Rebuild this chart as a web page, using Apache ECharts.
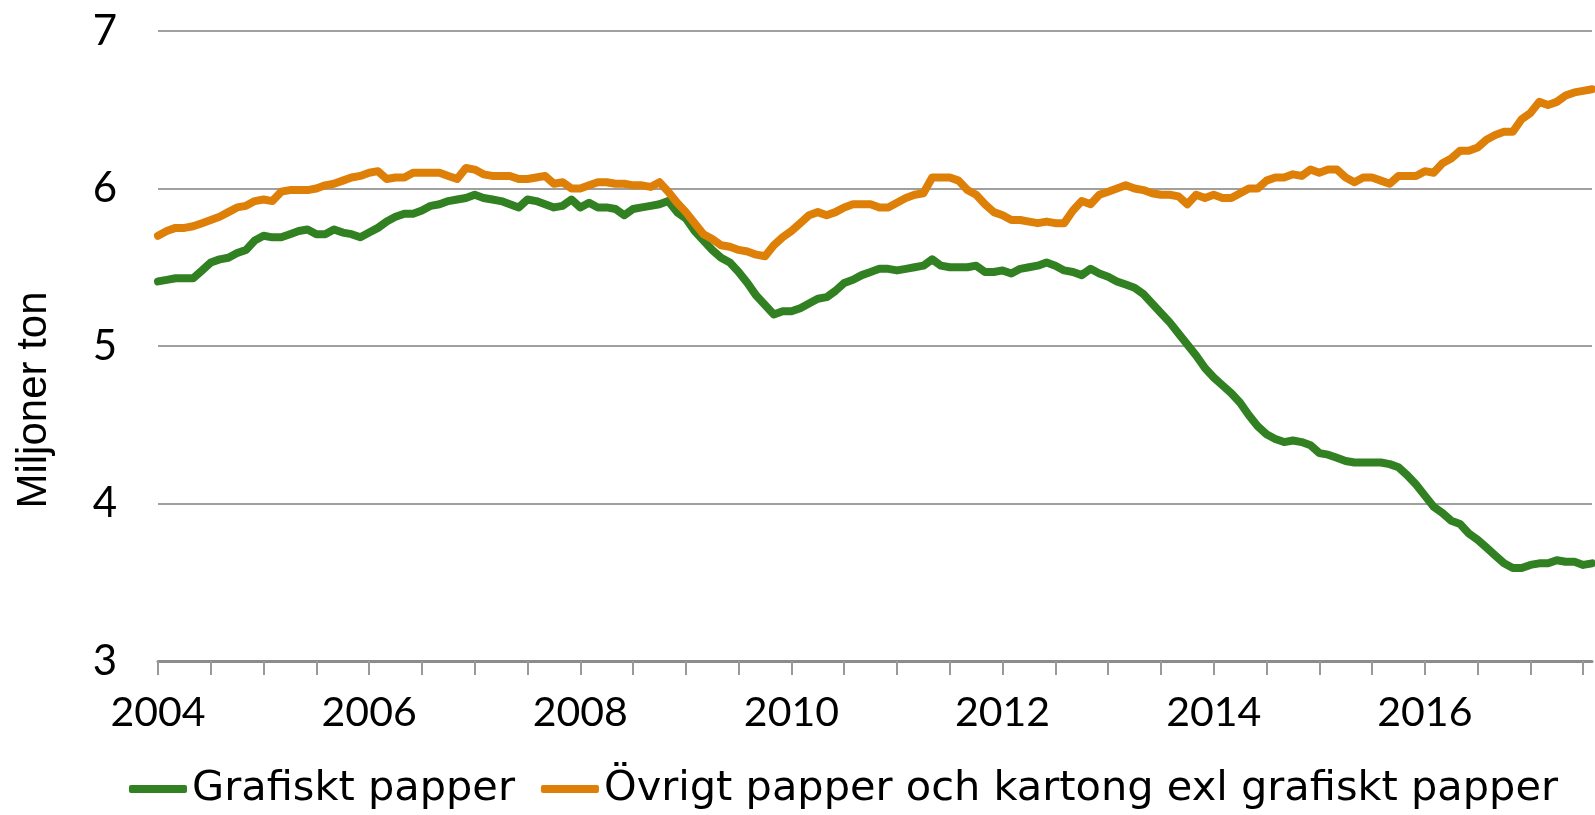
<!DOCTYPE html>
<html>
<head>
<meta charset="utf-8">
<title>Papper och kartong</title>
<script src="https://cdn.jsdelivr.net/npm/echarts@6/dist/echarts.min.js"></script>
<style>
  html, body { margin: 0; padding: 0; background: #fff; }
  #chart { width: 1595px; height: 815px; }
</style>
</head>
<body>
<div id="chart"></div>
<script>
// månadsdata jan 2004 - aug 2017, rullande 12 mån, miljoner ton
const startYear = 2004
const monthCount = 164
const seriesNames = ['Grafiskt papper', 'Övrigt papper och kartong exl grafiskt papper']
const yTicks = [3, 4, 5, 6, 7]

const grafiskt = [
  5.41, 5.42, 5.43, 5.43, 5.43, 5.48, 5.53, 5.55, 5.56, 5.59, 5.61, 5.67,
  5.70, 5.69, 5.69, 5.71, 5.73, 5.74, 5.71, 5.71, 5.74, 5.72, 5.71, 5.69,
  5.72, 5.75, 5.79, 5.82, 5.84, 5.84, 5.86, 5.89, 5.90, 5.92, 5.93, 5.94,
  5.96, 5.94, 5.93, 5.92, 5.90, 5.88, 5.93, 5.92, 5.90, 5.88, 5.89, 5.93,
  5.88, 5.91, 5.88, 5.88, 5.87, 5.83, 5.87, 5.88, 5.89, 5.90, 5.92, 5.85,
  5.81, 5.73, 5.67, 5.61, 5.56, 5.53, 5.47, 5.40, 5.32, 5.26, 5.20, 5.22,
  5.22, 5.24, 5.27, 5.30, 5.31, 5.35, 5.40, 5.42, 5.45, 5.47, 5.49, 5.49,
  5.48, 5.49, 5.50, 5.51, 5.55, 5.51, 5.50, 5.50, 5.50, 5.51, 5.47, 5.47,
  5.48, 5.46, 5.49, 5.50, 5.51, 5.53, 5.51, 5.48, 5.47, 5.45, 5.49, 5.46,
  5.44, 5.41, 5.39, 5.37, 5.33, 5.27, 5.21, 5.15, 5.08, 5.01, 4.94, 4.86,
  4.80, 4.75, 4.70, 4.64, 4.56, 4.49, 4.44, 4.41, 4.39, 4.40, 4.39, 4.37,
  4.32, 4.31, 4.29, 4.27, 4.26, 4.26, 4.26, 4.26, 4.25, 4.23, 4.18, 4.12,
  4.05, 3.98, 3.94, 3.89, 3.87, 3.81, 3.77, 3.72, 3.67, 3.62, 3.59, 3.59,
  3.61, 3.62, 3.62, 3.64, 3.63, 3.63, 3.61, 3.62
]

const ovrigt = [
  5.70, 5.73, 5.75, 5.75, 5.76, 5.78, 5.80, 5.82, 5.85, 5.88, 5.89, 5.92,
  5.93, 5.92, 5.98, 5.99, 5.99, 5.99, 6.00, 6.02, 6.03, 6.05, 6.07, 6.08,
  6.10, 6.11, 6.06, 6.07, 6.07, 6.10, 6.10, 6.10, 6.10, 6.08, 6.06, 6.13,
  6.12, 6.09, 6.08, 6.08, 6.08, 6.06, 6.06, 6.07, 6.08, 6.03, 6.04, 6.00,
  6.00, 6.02, 6.04, 6.04, 6.03, 6.03, 6.02, 6.02, 6.01, 6.04, 5.98, 5.91,
  5.85, 5.78, 5.71, 5.68, 5.64, 5.63, 5.61, 5.60, 5.58, 5.57, 5.64, 5.69,
  5.73, 5.78, 5.83, 5.85, 5.83, 5.85, 5.88, 5.90, 5.90, 5.90, 5.88, 5.88,
  5.91, 5.94, 5.96, 5.97, 6.07, 6.07, 6.07, 6.05, 5.99, 5.96, 5.90, 5.85,
  5.83, 5.80, 5.80, 5.79, 5.78, 5.79, 5.78, 5.78, 5.86, 5.92, 5.90, 5.96,
  5.98, 6.00, 6.02, 6.00, 5.99, 5.97, 5.96, 5.96, 5.95, 5.90, 5.96, 5.94,
  5.96, 5.94, 5.94, 5.97, 6.00, 6.00, 6.05, 6.07, 6.07, 6.09, 6.08, 6.12,
  6.10, 6.12, 6.12, 6.07, 6.04, 6.07, 6.07, 6.05, 6.03, 6.08, 6.08, 6.08,
  6.11, 6.10, 6.16, 6.19, 6.24, 6.24, 6.26, 6.31, 6.34, 6.36, 6.36, 6.44,
  6.48, 6.55, 6.53, 6.55, 6.59, 6.61, 6.62, 6.63
]

// kategorier: en per månad
const months = []
for (let i = 0; i < monthCount; i++) {
  const y = startYear + Math.floor(i / 12)
  const m = (i % 12) + 1
  months.push(y + '-' + (m < 10 ? '0' + m : m))
}

const font = 'Lato, "Open Sans", sans-serif'
const chart = echarts.init(document.getElementById('chart'))

chart.setOption({
  animation: false,
  color: ['#318021', '#de7f08'],
  grid: { left: 158, right: 3, top: 31, bottom: 154 },
  legend: {
    data: seriesNames,
    left: 124,
    top: 763,
    icon: 'roundRect',
    itemWidth: 58,
    itemHeight: 8,
    itemGap: 26,
    textStyle: { fontFamily: '"DejaVu Sans", sans-serif', fontSize: 41.5, color: '#000' }
  },
  graphic: [{
    type: 'text',
    x: 34,
    y: 400,
    rotation: Math.PI / 2,
    style: {
      text: 'Miljoner ton',
      font: '42px "Liberation Sans", Arial, sans-serif',
      fill: '#000',
      align: 'center',
      verticalAlign: 'middle'
    }
  }],
  xAxis: {
    type: 'category',
    data: months,
    boundaryGap: false,
    axisLine: { lineStyle: { color: '#8c8c8c', width: 3 } },
    axisTick: { interval: 5, length: 14, lineStyle: { color: '#999', width: 2 } },
    axisLabel: {
      interval: 23,
      margin: 31,
      fontFamily: font,
      fontSize: 41,
      color: '#000',
      formatter: v => v.slice(0, 4)
    },
    splitLine: { show: false }
  },
  yAxis: {
    type: 'value',
    min: yTicks[0],
    max: yTicks[yTicks.length - 1],
    interval: 1,
    axisLine: { show: false },
    axisTick: { show: false },
    axisLabel: { margin: 41, fontFamily: font, fontSize: 42, color: '#000' },
    splitLine: { lineStyle: { color: '#a0a0a0', width: 2 } }
  },
  series: [
    {
      name: seriesNames[0],
      type: 'line',
      data: grafiskt,
      showSymbol: false,
      lineStyle: { width: 8, cap: 'round', join: 'round' }
    },
    {
      name: seriesNames[1],
      type: 'line',
      data: ovrigt,
      showSymbol: false,
      lineStyle: { width: 8, cap: 'round', join: 'round' }
    }
  ]
})
</script>
</body>
</html>
